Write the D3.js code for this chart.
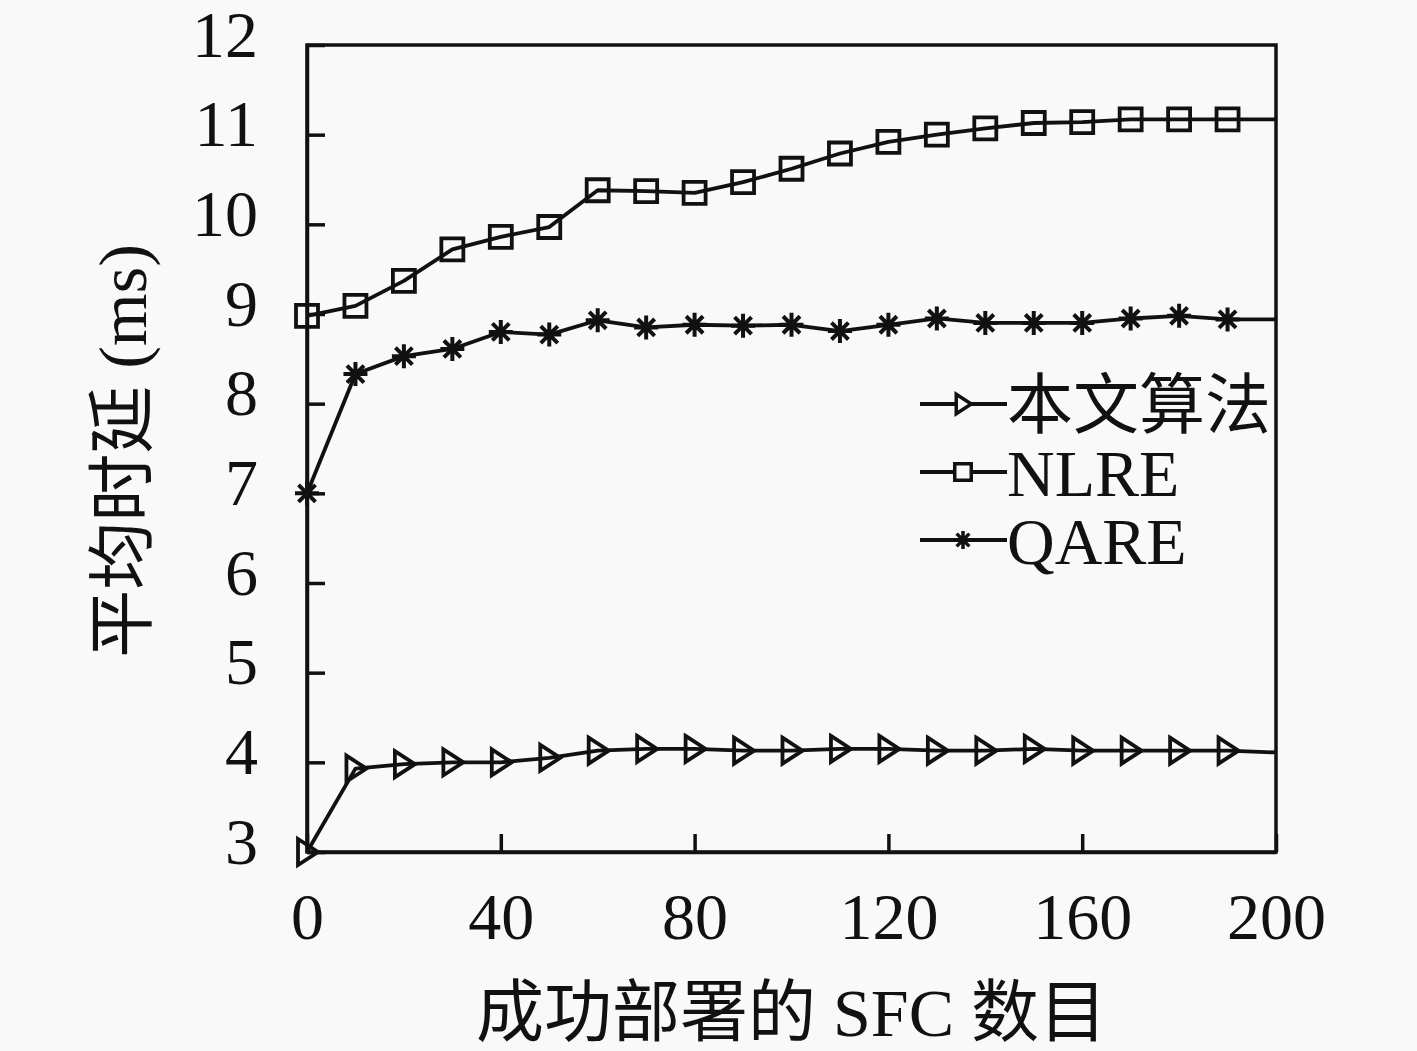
<!DOCTYPE html>
<html>
<head>
<meta charset="utf-8">
<script src="https://cdn.jsdelivr.net/npm/d3@7"></script>
<style>
  body { margin: 0; background: #f9f9f9; }
  svg { display: block; }
  text { font-family: "Liberation Serif", "Noto Sans CJK SC", serif; fill: #111; }
</style>
</head>
<body>
<svg class="chart"></svg>
<script>
// 成功部署的 SFC 数目
const sfcCount = [0, 10, 20, 30, 40, 50, 60, 70, 80, 90, 100, 110, 120, 130, 140, 150, 160, 170, 180, 190, 200];
const oursDelay = [3.0, 3.93, 3.98, 4.0, 4.0, 4.05, 4.13, 4.15, 4.15, 4.13, 4.13, 4.15, 4.15, 4.13, 4.13, 4.15, 4.13, 4.13, 4.13, 4.13, 4.11];
const nlreDelay = [8.98, 9.09, 9.37, 9.72, 9.86, 9.97, 10.38, 10.37, 10.35, 10.47, 10.62, 10.79, 10.92, 11.0, 11.07, 11.13, 11.14, 11.17, 11.17, 11.17, 11.17];
const qareDelay = [7.0, 8.33, 8.53, 8.61, 8.80, 8.77, 8.93, 8.85, 8.88, 8.87, 8.88, 8.81, 8.88, 8.95, 8.90, 8.90, 8.90, 8.95, 8.98, 8.94, 8.94];
const seriesNames = ["本文算法", "NLRE", "QARE"];
const xTicks = [0, 40, 80, 120, 160, 200];
const yTicks = [3, 4, 5, 6, 7, 8, 9, 10, 11, 12];

const margin = {top: 45, right: 141, bottom: 199, left: 307},
    width = 1417 - margin.left - margin.right,
    height = 1051 - margin.top - margin.bottom;

const svg = d3.select(".chart")
    .attr("width", width + margin.left + margin.right)
    .attr("height", height + margin.top + margin.bottom)
    .append("g")
    .attr("transform", `translate(${margin.left}, ${margin.top})`);

const x = d3.scaleLinear().domain([0, 200]).range([0, width]);
const y = d3.scaleLinear().domain([3, 12]).range([height, 0]);

// marker shapes (hollow, line shows through)
function markerPath(kind, s) {
    const p = d3.path();
    if (kind === "tri") {
        p.moveTo(-9 * s, -13 * s); p.lineTo(11 * s, 0); p.lineTo(-9 * s, 13 * s); p.closePath();
    } else if (kind === "sq") {
        p.rect(-11 * s, -11 * s, 22 * s, 22 * s);
    } else {
        const r = 12 * s;
        for (let k = 0; k < 4; k++) {
            const a = k * Math.PI / 4;
            p.moveTo(-r * Math.cos(a), -r * Math.sin(a));
            p.lineTo(r * Math.cos(a), r * Math.sin(a));
        }
    }
    return p.toString();
}

const series = [
    {name: seriesNames[0], values: oursDelay, mark: "tri"},
    {name: seriesNames[1], values: nlreDelay, mark: "sq"},
    {name: seriesNames[2], values: qareDelay, mark: "star"}
];

const lineGenerator = d3.line()
    .x((d, i) => x(sfcCount[i]))
    .y(d => y(d));

// axes with inward ticks
const yAxis = svg.append("g")
    .call(d3.axisLeft(y).tickValues(yTicks).tickSizeInner(-18).tickSizeOuter(0).tickPadding(49));
yAxis.selectAll("text").attr("y", -10).style("font-size", "66px");

const xAxis = svg.append("g")
    .attr("transform", `translate(0,${height})`)
    .call(d3.axisBottom(x).tickValues(xTicks).tickSizeInner(-18).tickSizeOuter(0).tickPadding(40));
xAxis.selectAll("text").style("font-size", "66px");

svg.selectAll(".domain, .tick line").attr("stroke", "#111").attr("stroke-width", 3.5);

svg.append("rect")
    .attr("width", width)
    .attr("height", height)
    .attr("fill", "none")
    .attr("stroke", "#111")
    .attr("stroke-width", 3.5);

series.forEach(s => {
    svg.append("path")
        .datum(s.values)
        .attr("fill", "none")
        .attr("stroke", "#111")
        .attr("stroke-width", 3.8)
        .attr("stroke-linejoin", "round")
        .attr("d", lineGenerator);

    svg.append("g")
        .selectAll("path")
        .data(s.values.map((v, i) => [sfcCount[i], v]).filter(d => d[0] < 200))
        .join("path")
        .attr("transform", d => `translate(${x(d[0])},${y(d[1])})`)
        .attr("d", markerPath(s.mark, 1))
        .attr("fill", "none")
        .attr("stroke", "#111")
        .attr("stroke-width", s.mark === "star" ? 4 : 3.8);
});

// legend
const legend = svg.append("g").attr("transform", `translate(${920 - margin.left}, ${404 - margin.top})`);
series.forEach((s, i) => {
    const row = legend.append("g").attr("transform", `translate(0, ${i * 68})`);
    row.append("line").attr("x1", 0).attr("x2", 87)
        .attr("stroke", "#111").attr("stroke-width", 3.8);
    row.append("path")
        .attr("transform", "translate(43,0)")
        .attr("d", markerPath(s.mark, 0.75))
        .attr("fill", "#f9f9f9")
        .attr("stroke", "#111")
        .attr("stroke-width", 3.5);
    row.append("text")
        .attr("x", 87)
        .attr("dy", "0.36em")
        .style("font-size", "66px")
        .text(s.name);
});

// axis titles
svg.append("text")
    .attr("x", width / 2)
    .attr("y", 1036 - margin.top)
    .attr("text-anchor", "middle")
    .style("font-size", "68px")
    .text("成功部署的 SFC 数目");

svg.append("text")
    .attr("transform", `translate(${146 - margin.left}, ${451 - margin.top}) rotate(-90)`)
    .attr("text-anchor", "middle")
    .style("font-size", "68px")
    .text("平均时延 (ms)");
</script>
</body>
</html>
